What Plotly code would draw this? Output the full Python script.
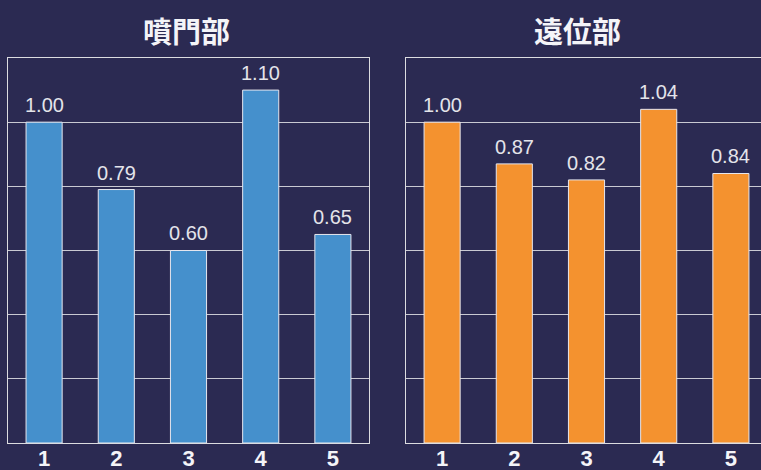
import plotly.graph_objects as go

W, H = 761, 470

categories = ["1", "2", "3", "4", "5"]
cardia_values = [1.00, 0.79, 0.60, 1.10, 0.65]
distal_values = [1.00, 0.87, 0.82, 1.04, 0.84]
titles = ["噴門部", "遠位部"]

BG = "#2b2a52"
BLUE = "#4590cc"
ORANGE = "#f4922f"
GRID = "#c9c9d2"
FRAME = "#dcdce0"

label_font = dict(family="Liberation Sans Narrow, Arial Narrow, Liberation Sans, Arial, sans-serif",
                  size=20, color="#e4e4ea")

fig = go.Figure()
fig.add_trace(go.Bar(x=categories, y=cardia_values, xaxis="x", yaxis="y",
                     marker=dict(color=BLUE, line=dict(color="#e6e6ee", width=1))))
fig.add_trace(go.Bar(x=categories, y=distal_values, xaxis="x2", yaxis="y2",
                     marker=dict(color=ORANGE, line=dict(color="#e6e6ee", width=1))))

annotations = []
for xr, yr, vals in (("x", "y", cardia_values), ("x2", "y2", distal_values)):
    for i, v in enumerate(vals):
        # category axes take the position index for annotations
        annotations.append(dict(x=i, y=v, xref=xr, yref=yr, text=f"{v:.2f}",
                                showarrow=False, yanchor="bottom", yshift=4,
                                font=label_font))

title_font = dict(family="Noto Sans CJK JP", size=29, color="#f4f4f8", weight="bold")
annotations.append(dict(x=186 / W, y=1 - 30 / H, xref="paper", yref="paper",
                        text=titles[0], showarrow=False, font=title_font,
                        xanchor="center", yanchor="middle"))
annotations.append(dict(x=577 / W, y=1 - 30 / H, xref="paper", yref="paper",
                        text=titles[1], showarrow=False, font=title_font,
                        xanchor="center", yanchor="middle"))

px_per_cat = (369 - 8) / 5.0
x2_span = (W - 406) / px_per_cat

y_dom = [1 - 443 / H, 1 - 58 / H]
tick_font = dict(family="Liberation Sans, Arial, sans-serif", size=22, color="#f4f4f8",
                 weight="bold")

common_y = dict(range=[0, 1.2], dtick=0.2, showgrid=True, gridcolor=GRID, gridwidth=1,
                showticklabels=False, zeroline=False, showline=True, linecolor=FRAME,
                linewidth=1, ticks="", automargin=False)

common_x = dict(showline=True, mirror=True, linecolor=FRAME, linewidth=1, showgrid=False,
                ticks="", tickfont=tick_font, automargin=False, ticklabelstandoff=-4)

fig.update_layout(
    width=W, height=H,
    margin=dict(l=0, r=0, t=0, b=0),
    paper_bgcolor=BG, plot_bgcolor=BG,
    showlegend=False,
    bargap=0.5,
    xaxis=dict(domain=[8 / W, 369 / W], range=[-0.5, 4.5], anchor="y", **common_x),
    yaxis=dict(domain=y_dom, mirror=True, anchor="x", **common_y),
    xaxis2=dict(domain=[406 / W, 1.0], range=[-0.5, -0.5 + x2_span], anchor="y2", **common_x),
    yaxis2=dict(domain=y_dom, mirror=False, anchor="x2", **common_y),
    annotations=annotations,
)

fig.write_html("out.html")
